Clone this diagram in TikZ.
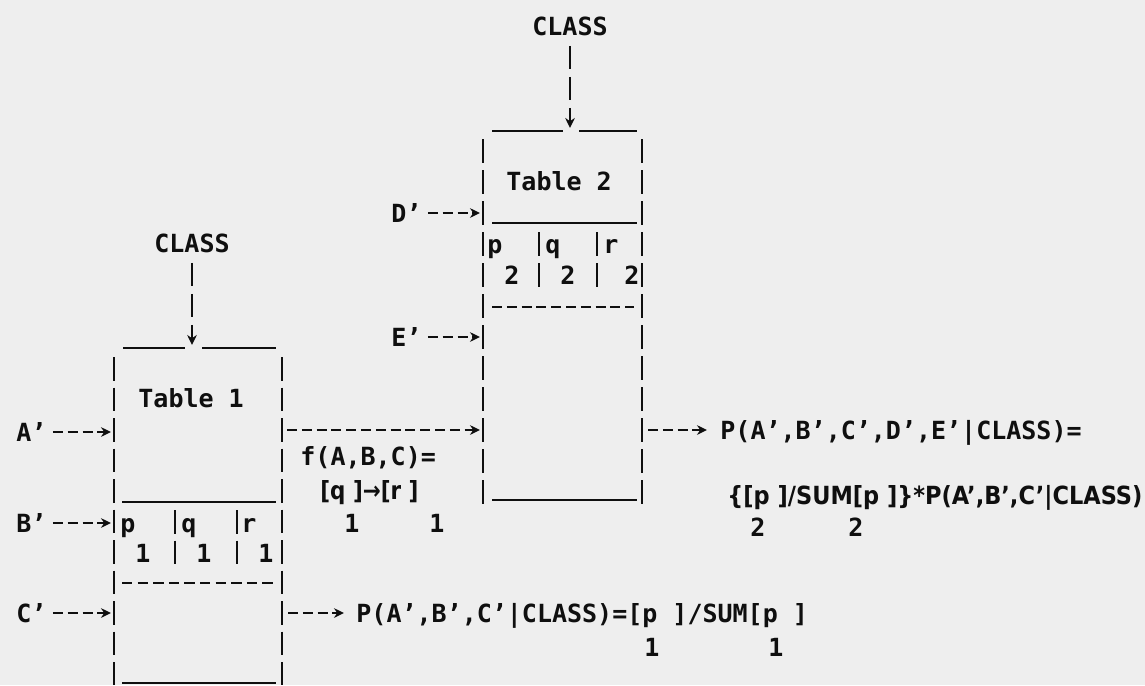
\documentclass[tikz,border=0pt]{standalone}
\usepackage{fontspec}
\usepackage{graphicx}
\newfontfamily\mono{DejaVu Sans Mono}
\newfontfamily\prop{DejaVu Sans}
\usetikzlibrary{arrows.meta}
\definecolor{paper}{RGB}{238,238,238}
\definecolor{ink}{RGB}{15,15,15}
\newcommand\fitto[2]{\resizebox{#1}{\height}{#2}}
\tikzset{
  txt/.style={font=\mono\bfseries\fontsize{12.5}{14}\selectfont, inner sep=0pt, text=ink, anchor=base west},
  ptxt/.style={txt, font=\prop\bfseries\fontsize{12.5}{14}\selectfont},
  ctxt/.style={txt, anchor=base},
  barline/.style={draw=ink, line width=1.25pt, dash pattern=on 12pt off 3.5pt},
  barlineA/.style={draw=ink, line width=1.25pt, dash pattern=on 11.75pt off 3.5pt},
  uline/.style={draw=ink, line width=1.2pt},
  dline/.style={draw=ink, line width=1.2pt, dash pattern=on 5pt off 2.4pt},
  dlineB/.style={draw=ink, line width=1.2pt, dash pattern=on 5.2pt off 2.6pt},
  darrow/.style={dline, -{Stealth[length=5pt,width=4.8pt]}},
  vcon/.style={draw=ink, line width=1.25pt, dash pattern=on 11.5pt off 4pt, -{Stealth[length=5pt,width=4.8pt]}},
}
\begin{document}
\begin{tikzpicture}[x=0.5pt,y=-0.5pt]
\fill[paper] (0,0) rectangle (1145,685);
\useasboundingbox (0,0) rectangle (1145,685);

% ---------- row reference coordinates ----------
\coordinate (r6) at (0,213);
\coordinate (r10) at (0,337);
\coordinate (r13) at (0,430);
\coordinate (rA) at (0,432);
\coordinate (rB) at (0,523);
\coordinate (rC) at (0,613);

% ---------- Table 2 frame ----------
\coordinate (t2a) at (483,139);
\coordinate (t2b) at (642,139);
\coordinate (t2c) at (483,505);
\coordinate (t2d) at (642,505);
\draw[barline] (t2a) -- (t2c);
\draw[barline] (t2b) -- (t2d);
\draw[uline] (492,131) -- (563,131);
\draw[uline] (579,131) -- (637,131);
\draw[uline] (492,223) -- (637,223);
\draw[uline] (492,500) -- (637,500);
\draw[dline] (492,307) -- (634,307);
\draw[barline] (539,232) -- (539,288);
\draw[barline] (597,232) -- (597,288);

\node[txt] (tab2) at (506,190) {Table 2};
\node[ctxt] (p2) at (495,253) {p};
\node[ctxt] (q2) at (553,253) {q};
\node[ctxt] (rr2) at (611,253) {r};
\node[ctxt] (v2a) at (512,284) {2};
\node[ctxt] (v2b) at (568,284) {2};
\node[ctxt] (v2c) at (632,284) {2};

% CLASS into table 2
\node[ctxt] (cls2) at (570,35) {CLASS};
\coordinate (t2in) at (570,128);
\draw[vcon] ([yshift=-5pt]cls2.south) -- (t2in);

% D', E'
\node[txt] (Dp) at (391,222) {D’};
\node[txt] (Ep) at (391,346) {E’};
\draw[darrow, shorten <=3pt, shorten >=1.5pt] (Dp.east |- r6) -- (t2a |- r6);
\draw[darrow, shorten <=3pt, shorten >=1.5pt] (Ep.east |- r10) -- (t2a |- r10);

% ---------- Table 1 frame ----------
\coordinate (t1a) at (114,357);
\coordinate (t1b) at (282,357);
\coordinate (t1c) at (114,685);
\coordinate (t1d) at (282,685);
\draw[barlineA] (t1a) -- (t1c);
\draw[barlineA] (t1b) -- (t1d);
\draw[uline] (123,348) -- (185,348);
\draw[uline] (202,348) -- (276,348);
\draw[uline] (122,502) -- (276,502);
\draw[uline] (122,683) -- (276,683);
\draw[dlineB] (122,583) -- (273,583);
\draw[barlineA] (175,510) -- (175,566);
\draw[barlineA] (237,510) -- (237,566);

\node[txt] (tab1) at (138,407) {Table 1};
\node[ctxt] (p1) at (128,532) {p};
\node[ctxt] (q1) at (189,532) {q};
\node[ctxt] (rr1) at (249,532) {r};
\node[ctxt] (v1a) at (143,562) {1};
\node[ctxt] (v1b) at (204,562) {1};
\node[ctxt] (v1c) at (266,562) {1};

% CLASS into table 1
\node[ctxt] (cls1) at (192,252) {CLASS};
\coordinate (t1in) at (192,345);
\draw[vcon] ([yshift=-5pt]cls1.south) -- (t1in);

% A', B', C'
\node[txt] (Ap) at (16,441) {A’};
\node[txt] (Bp) at (16,532) {B’};
\node[txt] (Cp) at (16,622) {C’};
\draw[darrow, shorten <=3pt, shorten >=1.5pt] (Ap.east |- rA) -- (t1a |- rA);
\draw[darrow, shorten <=3pt, shorten >=1.5pt] (Bp.east |- rB) -- (t1a |- rB);
\draw[darrow, shorten <=3pt, shorten >=1.5pt] (Cp.east |- rC) -- (t1a |- rC);

% ---------- Table 1 -> Table 2 ----------
\draw[darrow, shorten <=2.5pt, shorten >=1.5pt] (t1b |- r13) -- (t2a |- r13);
\node[txt] (fabc) at (300,465) {f(A,B,C)=};
\node[ptxt] (qr) at (320,499) {\fitto{49pt}{[q ]→[r ]}};
\node[ctxt] (s1a) at (352,532) {1};
\node[ctxt] (s1b) at (437,532) {1};

% ---------- results ----------
\node[txt] (P1) at (720,439) {P(A’,B’,C’,D’,E’|CLASS)=};
\node[ptxt] (P2) at (727,504) {\fitto{207.5pt}{\{[p ]/SUM[p ]\}*P(A’,B’,C’|CLASS)}};
\node[ctxt] (s2a) at (758,536) {2};
\node[ctxt] (s2b) at (856,536) {2};
\draw[darrow, shorten <=3pt, shorten >=6.5pt] (t2b |- r13) -- (P1.west |- r13);

\node[txt] (P3) at (356,622) {P(A’,B’,C’|CLASS)=[p ]/SUM[p ]};
\node[ctxt] (s3a) at (652,656) {1};
\node[ctxt] (s3b) at (776,656) {1};
\draw[darrow, shorten <=3pt, shorten >=6pt] (t1b |- rC) -- (P3.west |- rC);
\end{tikzpicture}
\end{document}
